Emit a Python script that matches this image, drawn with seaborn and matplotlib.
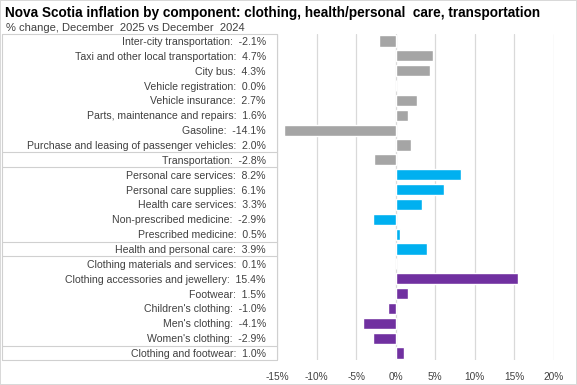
"""
Nova Scotia CPI by component: horizontal bar chart with grouped category labels.
"""
import matplotlib.pyplot as plt
import matplotlib.transforms as mtransforms
import pandas as pd
import seaborn as sns

sns.set_theme(style="white")
plt.rcParams["font.family"] = ["Liberation Sans", "DejaVu Sans"]

components = [
    "Inter-city transportation",
    "Taxi and other local transportation",
    "City bus",
    "Vehicle registration",
    "Vehicle insurance",
    "Parts, maintenance and repairs",
    "Gasoline",
    "Purchase and leasing of passenger vehicles",
    "Transportation",
    "Personal care services",
    "Personal care supplies",
    "Health care services",
    "Non-prescribed medicine",
    "Prescribed medicine",
    "Health and personal care",
    "Clothing materials and services",
    "Clothing accessories and jewellery",
    "Footwear",
    "Children's clothing",
    "Men's clothing",
    "Women's clothing",
    "Clothing and footwear",
]
pct_change = [-2.1, 4.7, 4.3, 0.0, 2.7, 1.6, -14.1, 2.0, -2.8,
              8.2, 6.1, 3.3, -2.9, 0.5, 3.9,
              0.1, 15.4, 1.5, -1.0, -4.1, -2.9, 1.0]
groups = ["transport"] * 9 + ["health"] * 6 + ["clothing"] * 7
x_ticks = [-15, -10, -5, 0, 5, 10, 15, 20]

palette = {"transport": "#A5A5A5", "health": "#00B0F0", "clothing": "#7030A0"}

df = pd.DataFrame({"component": components, "value": pct_change, "group": groups})
df["label"] = [f"{c}:  {v:.1f}%" for c, v in zip(df["component"], df["value"])]

fig = plt.figure(figsize=(5.77, 3.85), dpi=100)
ax = fig.add_axes([0.480, 0.0639, 0.480, 0.8488])

sns.barplot(
    data=df, y="label", x="value", hue="group", palette=palette,
    dodge=False, legend=False, width=0.75, orient="h", saturation=1, ax=ax,
)

n = len(components)
ax.set_ylim(n - 0.5, -0.5)
ax.set_xlim(x_ticks[0], x_ticks[-1])
ax.set_xticks(x_ticks)
ax.set_xticklabels([f"{t}%" for t in x_ticks])
ax.set_xlabel("")
ax.set_ylabel("")
ax.tick_params(axis="both", length=0, colors="#404040")
ax.tick_params(axis="y", pad=8, labelsize=7.6)
ax.tick_params(axis="x", pad=8, labelsize=7.3)
for lab in ax.get_yticklabels():
    lab.set_horizontalalignment("right")

# vertical gridlines only
ax.xaxis.grid(True, color="#D9D9D9", linewidth=0.9)
ax.yaxis.grid(False)
ax.set_axisbelow(True)
sns.despine(ax=ax, left=True, bottom=True)

# table-like frame around the category labels
trans = mtransforms.blended_transform_factory(ax.transAxes, ax.transData)
x0 = -0.993
line_kw = dict(color="#D0D0D0", linewidth=0.8, clip_on=False, transform=trans)
for y in [-0.5, 7.5, 8.5, 13.5, 14.5, 20.5, n - 0.5]:
    ax.plot([x0, 0], [y, y], **line_kw)
ax.plot([x0, x0], [-0.5, n - 0.5], **line_kw)
ax.plot([0, 0], [-0.5, n - 0.5], **line_kw)

fig.text(0.009, 0.966, "Nova Scotia inflation by component: clothing, health/personal  care, transportation",
         fontsize=9.85, fontweight="bold", va="center", ha="left", color="black")
fig.text(0.011, 0.928, "% change, December  2025 vs December  2024",
         fontsize=8, va="center", ha="left", color="#404040")

fig.patch.set_edgecolor("#D9D9D9")
fig.patch.set_linewidth(1.2)

fig.savefig("out.png", dpi=100, edgecolor=fig.get_edgecolor())
